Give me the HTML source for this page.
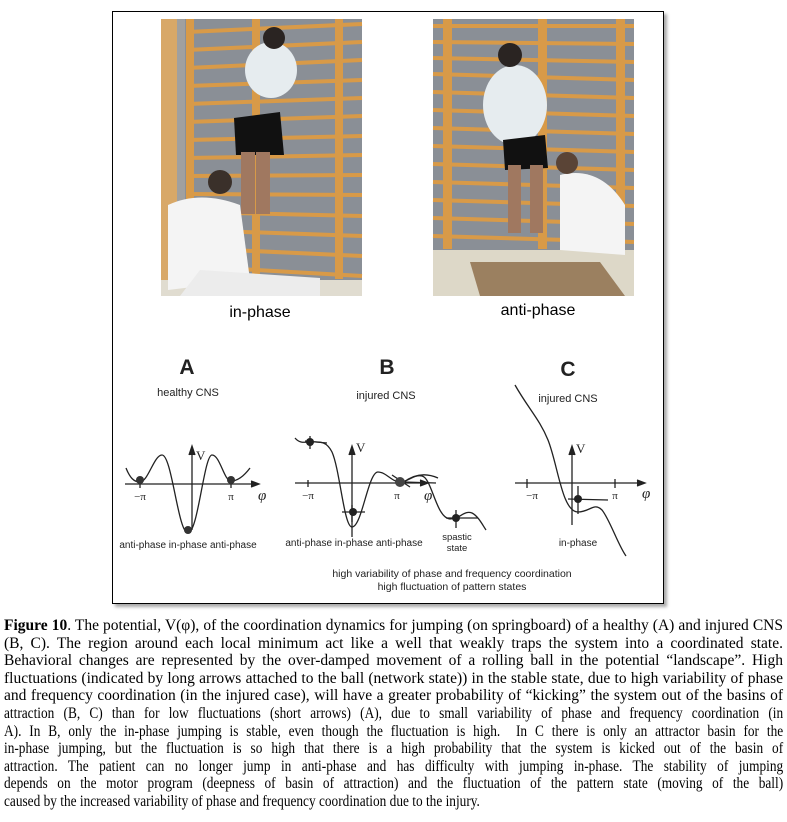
<!DOCTYPE html>
<html><head><meta charset="utf-8"><style>
body{margin:0;width:787px;height:822px;background:#fff;position:relative;overflow:hidden}
.box{position:absolute;left:112px;top:11px;width:550px;height:591px;border:1.5px solid #000;box-shadow:3px 3px 3px #aaa;background:#fff}
svg{position:absolute;left:0;top:0}
.cap{position:absolute;left:4px;top:617px;width:779px;font-family:"Liberation Serif",serif;font-size:15.5px;color:#000}
.l{height:17.6px;line-height:17.6px;white-space:nowrap;text-align:justify;text-align-last:justify;overflow:visible}
.c{transform-origin:0 0;transform:scaleX(0.86);width:906px}
.last{text-align-last:left}
</style></head><body>
<div class="box"></div>
<svg width="787" height="610" viewBox="0 0 787 610" font-family="Liberation Sans, sans-serif">
<g>
<rect x="161" y="19" width="201" height="277" fill="#8a8f96"/>
<rect x="161" y="19" width="16" height="277" fill="#d8a868"/>
<rect x="177" y="19" width="8" height="277" fill="#a0a0a0"/>
<g stroke="#d89a48" stroke-width="4">
<line x1="187" y1="32" x2="362" y2="24"/><line x1="187" y1="50" x2="362" y2="42"/><line x1="187" y1="68" x2="362" y2="60"/><line x1="187" y1="86" x2="362" y2="80"/><line x1="187" y1="104" x2="362" y2="98"/><line x1="187" y1="122" x2="362" y2="116"/><line x1="187" y1="140" x2="362" y2="136"/><line x1="187" y1="158" x2="362" y2="155"/><line x1="187" y1="176" x2="362" y2="175"/><line x1="187" y1="194" x2="362" y2="195"/><line x1="187" y1="212" x2="362" y2="216"/><line x1="187" y1="230" x2="362" y2="236"/><line x1="187" y1="248" x2="362" y2="256"/><line x1="187" y1="266" x2="362" y2="276"/>
</g>
<rect x="186" y="19" width="8" height="260" fill="#d89a48"/><rect x="252" y="19" width="8" height="260" fill="#d89a48"/><rect x="335" y="19" width="8" height="260" fill="#d89a48"/>
<rect x="161" y="280" width="201" height="16" fill="#e0dcd0"/>
<ellipse cx="271" cy="70" rx="26" ry="28" fill="#e6ecef"/>
<circle cx="274" cy="38" r="11" fill="#2a2422"/>
<path d="M234 118 L280 112 L284 155 L236 155 Z" fill="#111"/>
<rect x="241" y="152" width="14" height="62" fill="#a07860"/><rect x="256" y="152" width="14" height="62" fill="#a07860"/>
<path d="M168 205 Q200 190 240 205 L250 280 L168 290 Z" fill="#f4f4f4"/>
<circle cx="220" cy="182" r="12" fill="#3a302a"/>
<path d="M200 270 L320 278 L320 296 L180 296 Z" fill="#ececec"/>
</g>
<g>
<rect x="433" y="19" width="201" height="277" fill="#8a8f96"/>
<g stroke="#d89a48" stroke-width="4">
<line x1="433" y1="26" x2="634" y2="26"/><line x1="433" y1="42" x2="634" y2="44"/><line x1="433" y1="58" x2="634" y2="62"/><line x1="433" y1="74" x2="634" y2="80"/><line x1="433" y1="92" x2="634" y2="98"/><line x1="433" y1="110" x2="634" y2="116"/><line x1="433" y1="128" x2="634" y2="134"/><line x1="433" y1="146" x2="634" y2="152"/><line x1="433" y1="164" x2="634" y2="170"/><line x1="433" y1="182" x2="634" y2="188"/><line x1="433" y1="200" x2="634" y2="206"/><line x1="433" y1="218" x2="634" y2="224"/><line x1="433" y1="236" x2="634" y2="242"/>
</g>
<rect x="443" y="19" width="9" height="230" fill="#d89a48"/><rect x="538" y="19" width="9" height="230" fill="#d89a48"/><rect x="616" y="19" width="9" height="230" fill="#d89a48"/>
<rect x="433" y="250" width="201" height="46" fill="#ddd8c8"/>
<path d="M470 262 L600 262 L625 296 L480 296 Z" fill="#9b8060"/>
<ellipse cx="515" cy="105" rx="32" ry="40" fill="#e6ecef"/>
<circle cx="510" cy="55" r="12" fill="#2a2422"/>
<path d="M503 140 L545 135 L548 168 L505 170 Z" fill="#111"/>
<rect x="508" y="165" width="13" height="68" fill="#a07860"/><rect x="530" y="165" width="13" height="68" fill="#a07860"/>
<path d="M560 175 Q600 165 625 205 L625 255 L560 250 Z" fill="#f4f4f4"/>
<circle cx="567" cy="163" r="11" fill="#5a4436"/>
</g>
<text x="260" y="317" font-size="16" text-anchor="middle">in-phase</text>
<text x="538" y="315" font-size="16" text-anchor="middle">anti-phase</text>
<g fill="none" stroke="#222" stroke-width="1.3">
<text x="187" y="374" font-size="21" font-weight="bold" text-anchor="middle" fill="#222" stroke="none">A</text>
<text x="188" y="396" font-size="11" text-anchor="middle" fill="#222" stroke="none">healthy CNS</text>
<line x1="125" y1="484" x2="257" y2="484"/><path d="M251 481 L259 484 L251 487" fill="#222"/>
<line x1="192" y1="530" x2="192" y2="449"/><path d="M189 455 L192 446 L195 455" fill="#222"/>
<path d="M126 468 C130 478 134 482 140 482 C148 482 154 455 162 455 C172 455 178 533 188 533 C198 533 204 455 212 455 C220 455 224 481 231 481 C238 481 244 476 250 468"/>
<line x1="140" y1="488" x2="140" y2="478"/><line x1="231" y1="488" x2="231" y2="478"/>
</g>
<circle cx="140" cy="480" r="4" fill="#333"/><circle cx="231" cy="480" r="4" fill="#333"/><circle cx="188" cy="530" r="4" fill="#333"/>
<g font-size="11" fill="#222">
<text x="140" y="500" text-anchor="middle" font-family="Liberation Serif, serif">−π</text>
<text x="231" y="500" text-anchor="middle" font-family="Liberation Serif, serif">π</text>
<text x="196" y="460" font-family="Liberation Serif, serif" font-size="13">V</text>
<text x="258" y="500" font-family="Liberation Serif, serif" font-style="italic" font-size="15">φ</text>
<text x="188" y="548" text-anchor="middle" font-size="10">anti-phase  in-phase  anti-phase</text>
</g>
<g fill="none" stroke="#222" stroke-width="1.3">
<text x="387" y="374" font-size="21" font-weight="bold" text-anchor="middle" fill="#222" stroke="none">B</text>
<text x="386" y="399" font-size="11" text-anchor="middle" fill="#222" stroke="none">injured CNS</text>
<line x1="295" y1="483" x2="426" y2="483"/><path d="M420 480 L428 483 L420 486" fill="#222"/>
<line x1="352" y1="537" x2="352" y2="449"/><path d="M349 455 L352 446 L355 455" fill="#222"/>
<line x1="308" y1="480" x2="308" y2="487"/>
<path d="M295 438 C300 444 305 442 310 442 C318 442 326 440 332 452 C340 470 344 527 352 527 C362 527 368 472 378 472 C386 472 392 482 400 482 C408 482 414 474 422 476 C432 478 436 518 450 519 C460 519 464 510 472 513 C478 516 482 524 486 530"/>
<path d="M305 441 L327 443 M310 436 L310 449 M365 512 L342 512 M352 505 L352 522 M392 475 L410 487 M404 482 Q420 470 438 478 M404 482 L436 483 M446 518 L478 518 M456 510 L456 528"/>
</g>
<circle cx="310" cy="442" r="4" fill="#222"/><circle cx="353" cy="512" r="4" fill="#222"/><circle cx="400" cy="482" r="5" fill="#444"/><circle cx="456" cy="518" r="4" fill="#222"/>
<g font-size="11" fill="#222">
<text x="308" y="499" text-anchor="middle" font-family="Liberation Serif, serif">−π</text>
<text x="397" y="499" text-anchor="middle" font-family="Liberation Serif, serif">π</text>
<text x="356" y="452" font-family="Liberation Serif, serif" font-size="13">V</text>
<text x="424" y="500" font-family="Liberation Serif, serif" font-style="italic" font-size="15">φ</text>
<text x="354" y="546" text-anchor="middle" font-size="10">anti-phase  in-phase  anti-phase</text>
<text x="457" y="540" text-anchor="middle" font-size="9.5">spastic</text>
<text x="457" y="551" text-anchor="middle" font-size="9.5">state</text>
</g>
<g fill="none" stroke="#222" stroke-width="1.3">
<text x="568" y="376" font-size="21" font-weight="bold" text-anchor="middle" fill="#222" stroke="none">C</text>
<text x="568" y="402" font-size="11" text-anchor="middle" fill="#222" stroke="none">injured CNS</text>
<line x1="515" y1="483" x2="643" y2="483"/><path d="M637 480 L645 483 L637 486" fill="#222"/>
<line x1="572" y1="525" x2="572" y2="449"/><path d="M569 455 L572 446 L575 455" fill="#222"/>
<line x1="527" y1="479" x2="527" y2="488"/><line x1="615" y1="479" x2="615" y2="488"/>
<path d="M515 385 C528 408 540 420 548 440 C558 465 562 512 578 512 C590 512 594 502 602 510 C610 520 618 545 626 556"/>
<path d="M568 499 L608 500 M578 486 L578 514"/>
</g>
<circle cx="578" cy="499" r="4" fill="#222"/>
<g font-size="11" fill="#222">
<text x="532" y="499" text-anchor="middle" font-family="Liberation Serif, serif">−π</text>
<text x="615" y="499" text-anchor="middle" font-family="Liberation Serif, serif">π</text>
<text x="576" y="453" font-family="Liberation Serif, serif" font-size="13">V</text>
<text x="642" y="498" font-family="Liberation Serif, serif" font-style="italic" font-size="15">φ</text>
<text x="578" y="546" text-anchor="middle" font-size="10">in-phase</text>
<text x="452" y="577" text-anchor="middle" font-size="10.5">high variability of phase and frequency coordination</text>
<text x="452" y="590" text-anchor="middle" font-size="10.5">high fluctuation of pattern states</text>
</g>
</svg>
<div class="cap">
<div class="l"><b>Figure 10</b>. The potential, V(φ), of the coordination dynamics for jumping (on springboard) of a healthy (A) and injured CNS</div>
<div class="l">(B, C). The region around each local minimum act like a well that weakly traps the system into a coordinated state.</div>
<div class="l">Behavioral changes are represented by the over-damped movement of a rolling ball in the potential “landscape”. High</div>
<div class="l">fluctuations (indicated by long arrows attached to the ball (network state)) in the stable state, due to high variability of phase</div>
<div class="l">and frequency coordination (in the injured case), will have a greater probability of “kicking” the system out of the basins of</div>
<div class="l c">attraction (B, C) than for low fluctuations (short arrows) (A), due to small variability of phase and frequency coordination (in</div>
<div class="l c">A). In B, only the in-phase jumping is stable, even though the fluctuation is high.&nbsp; In C there is only an attractor basin for the</div>
<div class="l c">in-phase jumping, but the fluctuation is so high that there is a high probability that the system is kicked out of the basin of</div>
<div class="l c">attraction. The patient can no longer jump in anti-phase and has difficulty with jumping in-phase. The stability of jumping</div>
<div class="l c">depends on the motor program (deepness of basin of attraction) and the fluctuation of the pattern state (moving of the ball)</div>
<div class="l c last">caused by the increased variability of phase and frequency coordination due to the injury.</div>
</div>
</body></html>
